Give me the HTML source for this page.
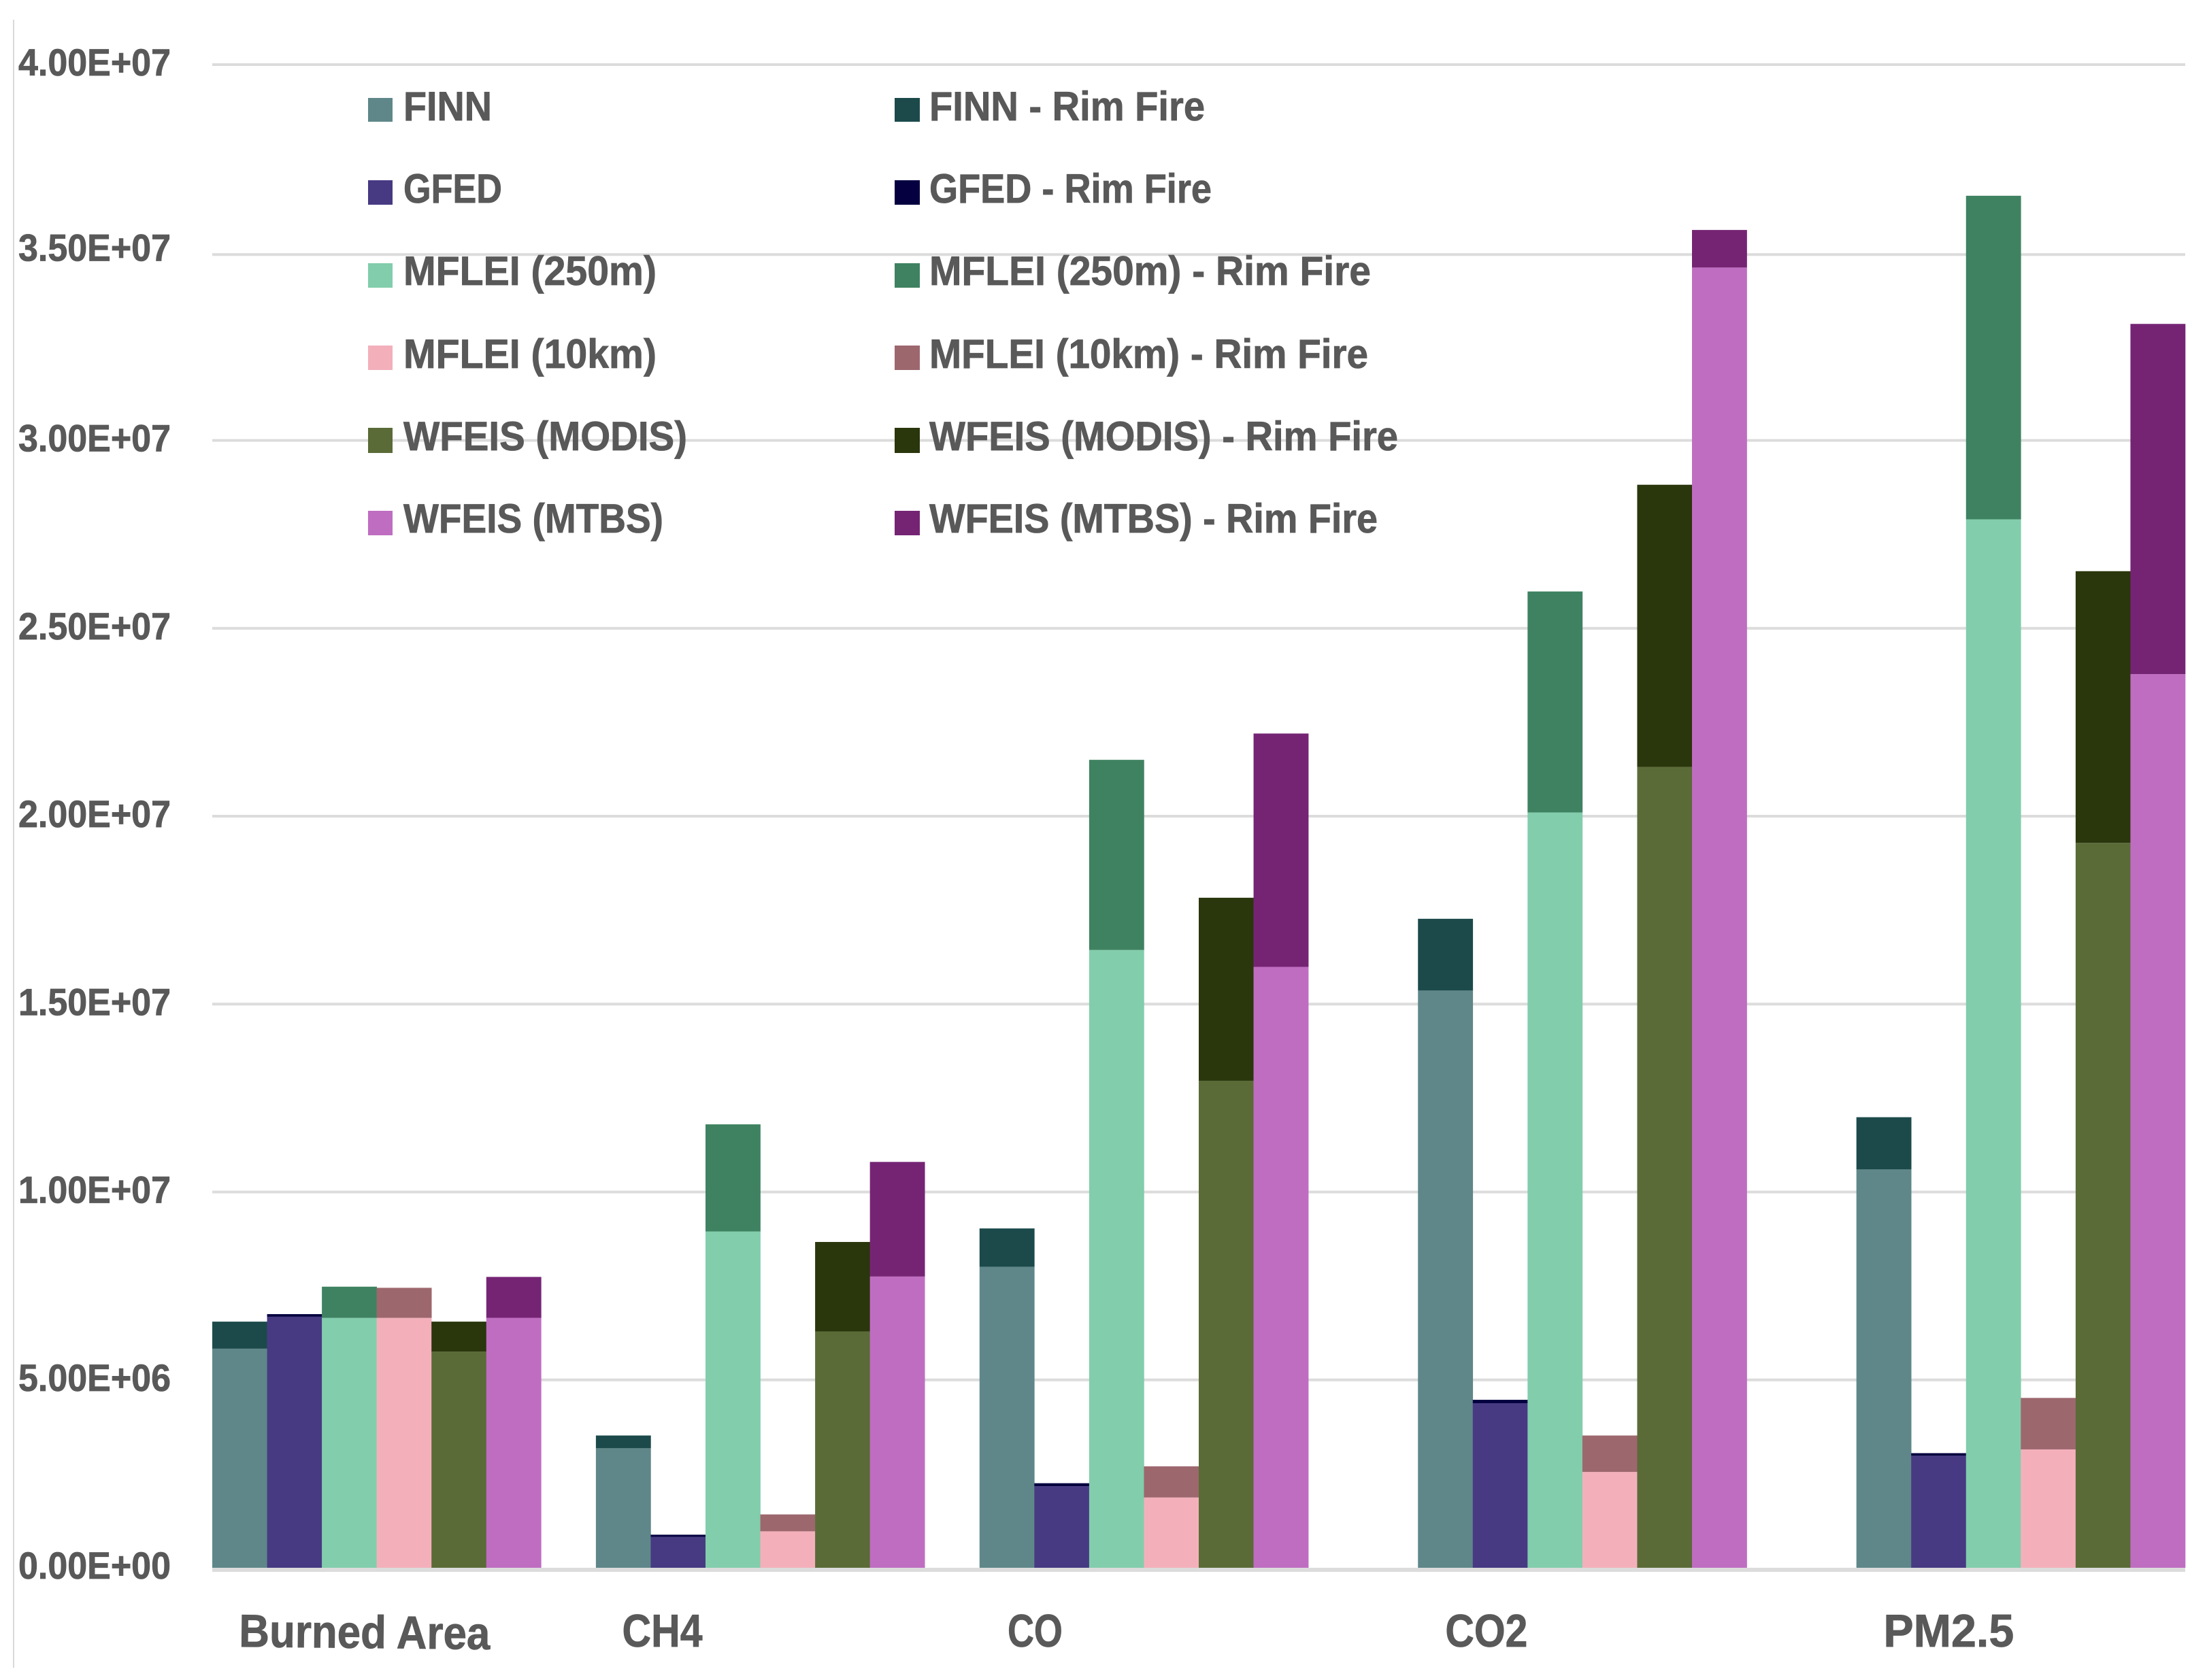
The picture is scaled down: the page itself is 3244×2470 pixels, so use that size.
<!DOCTYPE html>
<html lang="en">
<head>
<meta charset="utf-8">
<title>Emissions and burned area by inventory</title>
<style>
  html, body { margin: 0; padding: 0; background: #ffffff; }
  svg { display: block; }
  text { font-family: "Liberation Sans", Arial, sans-serif; font-weight: 700; fill: #595959; stroke: #595959; stroke-width: 0.8px; }
</style>
</head>
<body>
<svg id="chart" xmlns="http://www.w3.org/2000/svg" width="3244" height="2470" viewBox="0 0 3244 2470">
  <rect x="0" y="0" width="3244" height="2470" fill="#ffffff"/>
  <rect x="19" y="29" width="2" height="2423" fill="#d9d9d9"/>
  <g id="grid"></g>
  <g id="yticks"></g>
  <g id="bars"></g>
  <g id="xticks"></g>

  <g font-size="60">
    <rect x="541" y="144" width="36" height="35" fill="#5f8789"/>
    <text x="593" y="177" textLength="130" lengthAdjust="spacingAndGlyphs">FINN</text>
    <rect x="541" y="265" width="36" height="36" fill="#473a83"/>
    <text x="593" y="298" textLength="145" lengthAdjust="spacingAndGlyphs">GFED</text>
    <rect x="541" y="387" width="36" height="36" fill="#82cdac"/>
    <text x="593" y="419" textLength="372" lengthAdjust="spacingAndGlyphs">MFLEI (250m)</text>
    <rect x="541" y="508" width="36" height="36" fill="#f3b0bb"/>
    <text x="593" y="541" textLength="372" lengthAdjust="spacingAndGlyphs">MFLEI (10km)</text>
    <rect x="541" y="629" width="36" height="37" fill="#5a6b37"/>
    <text x="593" y="662" textLength="417" lengthAdjust="spacingAndGlyphs">WFEIS (MODIS)</text>
    <rect x="541" y="751" width="36" height="36" fill="#bf6dc1"/>
    <text x="593" y="783" textLength="382" lengthAdjust="spacingAndGlyphs">WFEIS (MTBS)</text>

    <rect x="1315" y="144" width="37" height="35" fill="#1c4a4b"/>
    <text x="1366" y="177" textLength="405" lengthAdjust="spacingAndGlyphs">FINN - Rim Fire</text>
    <rect x="1315" y="265" width="37" height="36" fill="#050040"/>
    <text x="1366" y="298" textLength="415" lengthAdjust="spacingAndGlyphs">GFED - Rim Fire</text>
    <rect x="1315" y="387" width="37" height="36" fill="#3f8261"/>
    <text x="1366" y="419" textLength="649" lengthAdjust="spacingAndGlyphs">MFLEI (250m) - Rim Fire</text>
    <rect x="1315" y="508" width="37" height="36" fill="#9d676e"/>
    <text x="1366" y="541" textLength="645" lengthAdjust="spacingAndGlyphs">MFLEI (10km) - Rim Fire</text>
    <rect x="1315" y="629" width="37" height="37" fill="#2a360c"/>
    <text x="1366" y="662" textLength="689" lengthAdjust="spacingAndGlyphs">WFEIS (MODIS) - Rim Fire</text>
    <rect x="1315" y="751" width="37" height="36" fill="#752474"/>
    <text x="1366" y="783" textLength="659" lengthAdjust="spacingAndGlyphs">WFEIS (MTBS) - Rim Fire</text>
  </g>
</svg>

<script>
// Chart data
const categories = ["Burned Area", "CH4", "CO", "CO2", "PM2.5"];
const yTickValues = [0, 5e6, 1e7, 1.5e7, 2e7, 2.5e7, 3e7, 3.5e7, 4e7];
const yTickLabels = ["0.00E+00", "5.00E+06", "1.00E+07", "1.50E+07", "2.00E+07", "2.50E+07", "3.00E+07", "3.50E+07", "4.00E+07"];

const seriesNames = ["finn", "gfed", "mflei-250m", "mflei-10km", "wfeis-modis", "wfeis-mtbs"];

const finn = [5.83e6, 3.18e6, 8.01e6, 15.36e6, 10.60e6];
const gfed = [6.68e6, 0.82e6, 2.17e6, 4.38e6, 2.98e6];
const mflei250 = [6.65e6, 8.95e6, 16.44e6, 20.10e6, 27.90e6];
const mflei10 = [6.65e6, 0.97e6, 1.87e6, 2.55e6, 3.15e6];
const wfeisModis = [5.75e6, 6.29e6, 12.96e6, 21.31e6, 19.29e6];
const wfeisMtbs = [6.65e6, 7.75e6, 15.99e6, 34.60e6, 23.78e6];

const finnRim = [0.72e6, 0.34e6, 1.02e6, 1.91e6, 1.39e6];
const gfedRim = [0.07e6, 0.06e6, 0.08e6, 0.09e6, 0.07e6];
const mflei250Rim = [0.83e6, 2.85e6, 5.06e6, 5.88e6, 8.61e6];
const mflei10Rim = [0.80e6, 0.45e6, 0.83e6, 0.97e6, 1.37e6];
const wfeisModisRim = [0.80e6, 2.38e6, 4.87e6, 7.51e6, 7.23e6];
const wfeisMtbsRim = [1.09e6, 3.05e6, 6.21e6, 1.00e6, 9.32e6];

const baseSeries = [finn, gfed, mflei250, mflei10, wfeisModis, wfeisMtbs];
const rimSeries = [finnRim, gfedRim, mflei250Rim, mflei10Rim, wfeisModisRim, wfeisMtbsRim];
const baseColors = ["#5f8789", "#473a83", "#82cdac", "#f3b0bb", "#5a6b37", "#bf6dc1"];
const rimColors = ["#1c4a4b", "#050040", "#3f8261", "#9d676e", "#2a360c", "#752474"];

// Axis functions
const SVG_NS = "http://www.w3.org/2000/svg";
const plotLeft = 312, plotRight = 3212, zeroY = 2305, topY = 95, yMax = 4e7;
const barsPerGroup = 6;
const totalSlots = 36;
const barWidth = (plotRight - plotLeft) / totalSlots;

function yScale(v) {
  return zeroY - (v / yMax) * (zeroY - topY);
}
// Groups are separated by one empty slot, and by two after the third group.
function groupSlot(i) {
  return i * (barsPerGroup + 1) + Math.max(0, i - 2);
}
function xScale(i, j) {
  return plotLeft + (groupSlot(i) + j) * barWidth;
}
function slug(s) {
  return s.toLowerCase().replace(/[^a-z0-9]+/g, "-");
}

// Gridlines and y-axis labels
const gridGroup = document.getElementById("grid");
const ytickGroup = document.getElementById("yticks");
yTickValues.forEach(function (v, k) {
  // The source figure's 3.5e7 gridline sits slightly low and its label slightly high.
  const lineNudge = v === 3.5e7 ? 3 : 0;
  const labelNudge = v === 3.5e7 ? -4 : 0;

  const line = document.createElementNS(SVG_NS, "rect");
  
  
  const thickness = v === 0 ? 6 : 4;
  line.setAttribute("x", plotLeft);
  line.setAttribute("y", (v === 0 ? yScale(v) : yScale(v) - thickness / 2) + lineNudge);
  line.setAttribute("width", plotRight - plotLeft);
  line.setAttribute("height", thickness);
  line.setAttribute("fill", "#dcdcdc");
  gridGroup.appendChild(line);

  const label = document.createElementNS(SVG_NS, "text");
  
  
  label.setAttribute("x", 27);
  label.setAttribute("y", yScale(v) + 16 + labelNudge);
  label.setAttribute("font-size", 56);
  label.setAttribute("textLength", 224);
  label.setAttribute("lengthAdjust", "spacingAndGlyphs");
  label.textContent = yTickLabels[k];
  ytickGroup.appendChild(label);
});

// Stacked bars
const barGroup = document.getElementById("bars");
function addBar(i, j, from, to, color, name) {
  const r = document.createElementNS(SVG_NS, "rect");
  
  
  r.setAttribute("x", xScale(i, j));
  r.setAttribute("y", yScale(to));
  r.setAttribute("width", barWidth + 0.3);
  r.setAttribute("height", yScale(from) - yScale(to));
  r.setAttribute("fill", color);
  barGroup.appendChild(r);
}
categories.forEach(function (cat, i) {
  baseSeries.forEach(function (values, j) {
    const base = values[i];
    const top = base + rimSeries[j][i];
    addBar(i, j, 0, base, baseColors[j], "bar-" + seriesNames[j] + "-" + slug(cat));
    addBar(i, j, base, top, rimColors[j], "bar-" + seriesNames[j] + "-rim-" + slug(cat));
  });
});

// Category labels (placed off-centre from their groups, as in the source figure)
const xtickGroup = document.getElementById("xticks");
function drawCategoryLabels() {
  const centerOffset = [-18, -144, -160, -141, -106];
  const labelWidth = [369, 118, 81, 121, 192];
  const tilt = [0.6, 0, 0, 0, 0];
  categories.forEach(function (cat, i) {
    const groupCenter = xScale(i, barsPerGroup / 2);
    const left = groupCenter + centerOffset[i] - labelWidth[i] / 2;
    const t = document.createElementNS(SVG_NS, "text");
    
    
    t.setAttribute("x", left);
    t.setAttribute("y", 2421);
    t.setAttribute("font-size", 68);
    t.setAttribute("textLength", labelWidth[i]);
    t.setAttribute("lengthAdjust", "spacingAndGlyphs");
    t.setAttribute("transform", "rotate(" + tilt[i] + " " + left + " 2421)");
    t.textContent = cat;
    xtickGroup.appendChild(t);
  });
}
drawCategoryLabels();
</script>
</body>
</html>
